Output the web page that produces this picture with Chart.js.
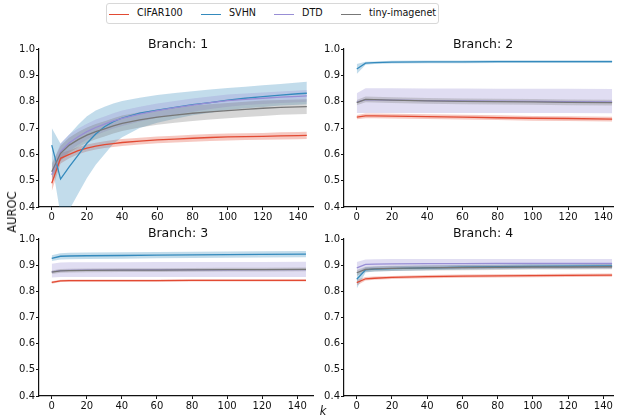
<!DOCTYPE html>
<html lang="en">
<head>
    <meta charset="UTF-8">
    <title>AUROC per branch</title>
    <script src="https://cdn.jsdelivr.net/npm/chart.js@4.4.0/dist/chart.umd.min.js"></script>
    <style>
        body { margin: 0; background: #fff; font-family: "DejaVu Sans", sans-serif; color: #111; }
        #page { position: relative; width: 622px; height: 420px; overflow: hidden; }
        .panel { position: absolute; }
        .title { position: absolute; font-size: 12.5px; transform: translate(-50%, -50%); white-space: nowrap; }
        #legend { position: absolute; left: 106px; top: 3px; width: 331px; height: 19px;
                  border: 1px solid #d8d8d8; border-radius: 3px; font-size: 9.6px; }
        .item { position: absolute; top: 3px; white-space: nowrap; }
        .swatch { position: absolute; width: 20px; height: 0; top: 7px; border-top: 1.3px solid; }
        .item span { position: absolute; left: 28px; top: 0; }
        #ylab { position: absolute; left: 12px; top: 212px; font-size: 11.5px; transform: translate(-50%, -50%) rotate(-90deg); }
        #xlab { position: absolute; left: 323px; top: 411px; font-size: 11.5px; font-style: italic; transform: translate(-50%, -50%); }
    </style>
</head>
<body>
<div id="page">
    <div id="legend"></div>
    <div class="panel" style="left:0px;top:30px"><canvas id="b1" width="320" height="197"></canvas></div>
    <div class="panel" style="left:305px;top:30px"><canvas id="b2" width="315" height="197"></canvas></div>
    <div class="panel" style="left:0px;top:220px"><canvas id="b3" width="320" height="196"></canvas></div>
    <div class="panel" style="left:305px;top:220px"><canvas id="b4" width="315" height="196"></canvas></div>
    <div class="title" style="left:178px;top:43px">Branch: 1</div>
    <div class="title" style="left:483px;top:43px">Branch: 2</div>
    <div class="title" style="left:178px;top:232px">Branch: 3</div>
    <div class="title" style="left:483px;top:232px">Branch: 4</div>
    <div id="ylab">AUROC</div>
    <div id="xlab">k</div>
</div>
<script>
// tick labels
const xTicks = [0, 20, 40, 60, 80, 100, 120, 140];
const yTicks = [0.4, 0.5, 0.6, 0.7, 0.8, 0.9, 1.0];

const names = ['CIFAR100', 'SVHN', 'DTD', 'tiny-imagenet'];
const colors = ['#E24A33', '#348ABD', '#988ED5', '#777777'];
const fills = ['rgba(226,74,51,0.3)', 'rgba(52,138,189,0.3)', 'rgba(152,142,213,0.3)', 'rgba(119,119,119,0.3)'];

// Branch 1 (k values)
const k1 = [0, 5, 10, 15, 20, 25, 30, 35, 40, 50, 60, 70, 80, 90, 100, 110, 120, 130, 140, 145];
const b1Cifar   = [0.490, 0.585, 0.600, 0.614, 0.624, 0.631, 0.637, 0.641, 0.645, 0.650, 0.655, 0.658, 0.661, 0.664, 0.666, 0.667, 0.668, 0.670, 0.671, 0.672];
const b1CifarLo = [0.460, 0.565, 0.585, 0.600, 0.611, 0.618, 0.624, 0.628, 0.632, 0.637, 0.642, 0.645, 0.648, 0.651, 0.653, 0.654, 0.655, 0.656, 0.657, 0.658];
const b1CifarHi = [0.520, 0.605, 0.615, 0.628, 0.637, 0.644, 0.650, 0.654, 0.658, 0.663, 0.668, 0.671, 0.674, 0.677, 0.679, 0.680, 0.681, 0.684, 0.685, 0.686];
const b1Svhn    = [0.635, 0.506, 0.553, 0.597, 0.642, 0.677, 0.705, 0.724, 0.738, 0.756, 0.768, 0.778, 0.789, 0.796, 0.806, 0.813, 0.819, 0.825, 0.830, 0.832];
const b1SvhnLo  = [0.570, 0.370, 0.390, 0.450, 0.510, 0.560, 0.600, 0.640, 0.665, 0.700, 0.720, 0.735, 0.748, 0.758, 0.768, 0.775, 0.780, 0.785, 0.788, 0.790];
const b1SvhnHi  = [0.700, 0.640, 0.675, 0.712, 0.745, 0.766, 0.781, 0.793, 0.803, 0.815, 0.825, 0.833, 0.840, 0.846, 0.852, 0.857, 0.862, 0.867, 0.873, 0.876];
const b1Dtd     = [0.522, 0.610, 0.644, 0.667, 0.686, 0.702, 0.715, 0.727, 0.737, 0.753, 0.766, 0.777, 0.787, 0.796, 0.804, 0.809, 0.813, 0.817, 0.820, 0.822];
const b1DtdLo   = [0.490, 0.578, 0.612, 0.636, 0.656, 0.672, 0.686, 0.698, 0.708, 0.725, 0.739, 0.751, 0.762, 0.772, 0.781, 0.787, 0.791, 0.795, 0.798, 0.800];
const b1DtdHi   = [0.555, 0.642, 0.676, 0.698, 0.716, 0.732, 0.744, 0.756, 0.766, 0.781, 0.793, 0.803, 0.812, 0.820, 0.827, 0.831, 0.835, 0.839, 0.842, 0.844];
const b1Tiny    = [0.534, 0.604, 0.635, 0.656, 0.673, 0.686, 0.697, 0.708, 0.718, 0.731, 0.741, 0.749, 0.756, 0.761, 0.766, 0.771, 0.775, 0.778, 0.780, 0.781];
const b1TinyLo  = [0.505, 0.575, 0.606, 0.627, 0.644, 0.657, 0.668, 0.679, 0.689, 0.702, 0.712, 0.720, 0.727, 0.732, 0.737, 0.742, 0.746, 0.750, 0.752, 0.753];
const b1TinyHi  = [0.565, 0.633, 0.664, 0.685, 0.702, 0.715, 0.726, 0.737, 0.747, 0.760, 0.770, 0.778, 0.785, 0.790, 0.795, 0.800, 0.804, 0.806, 0.808, 0.809];

// Branches 2-4 share these k values
const k2 = [0, 5, 10, 20, 40, 60, 80, 100, 120, 145];

const b2Cifar   = [0.741, 0.746, 0.746, 0.745, 0.743, 0.741, 0.739, 0.737, 0.736, 0.734];
const b2CifarLo = [0.733, 0.737, 0.737, 0.736, 0.734, 0.732, 0.730, 0.728, 0.727, 0.725];
const b2CifarHi = [0.749, 0.755, 0.755, 0.754, 0.752, 0.750, 0.748, 0.746, 0.745, 0.743];
const b2Svhn    = [0.924, 0.946, 0.948, 0.950, 0.951, 0.951, 0.952, 0.952, 0.952, 0.952];
const b2SvhnLo  = [0.905, 0.940, 0.943, 0.945, 0.946, 0.946, 0.947, 0.947, 0.947, 0.947];
const b2SvhnHi  = [0.943, 0.952, 0.953, 0.955, 0.956, 0.956, 0.957, 0.957, 0.957, 0.957];
const b2Dtd     = [0.798, 0.808, 0.807, 0.806, 0.804, 0.803, 0.802, 0.801, 0.800, 0.799];
const b2DtdLo   = [0.757, 0.757, 0.757, 0.757, 0.757, 0.757, 0.757, 0.757, 0.757, 0.756];
const b2DtdHi   = [0.832, 0.851, 0.851, 0.851, 0.850, 0.850, 0.849, 0.849, 0.849, 0.848];
const b2Tiny    = [0.796, 0.809, 0.808, 0.806, 0.803, 0.801, 0.800, 0.799, 0.797, 0.796];
const b2TinyLo  = [0.786, 0.798, 0.797, 0.795, 0.792, 0.790, 0.789, 0.788, 0.786, 0.785];
const b2TinyHi  = [0.806, 0.820, 0.819, 0.817, 0.814, 0.812, 0.811, 0.810, 0.808, 0.807];

const b3Cifar   = [0.834, 0.840, 0.841, 0.841, 0.841, 0.841, 0.842, 0.842, 0.842, 0.842];
const b3CifarLo = [0.829, 0.836, 0.837, 0.837, 0.837, 0.837, 0.838, 0.838, 0.838, 0.838];
const b3CifarHi = [0.839, 0.844, 0.845, 0.845, 0.845, 0.845, 0.846, 0.846, 0.846, 0.846];
const b3Svhn    = [0.926, 0.934, 0.935, 0.936, 0.937, 0.938, 0.939, 0.940, 0.941, 0.942];
const b3SvhnLo  = [0.916, 0.922, 0.923, 0.924, 0.925, 0.926, 0.927, 0.928, 0.929, 0.930];
const b3SvhnHi  = [0.938, 0.946, 0.947, 0.948, 0.949, 0.950, 0.951, 0.952, 0.953, 0.954];
const b3Dtd     = [0.874, 0.879, 0.880, 0.881, 0.881, 0.882, 0.882, 0.882, 0.883, 0.883];
const b3DtdLo   = [0.853, 0.855, 0.855, 0.855, 0.855, 0.855, 0.855, 0.855, 0.855, 0.855];
const b3DtdHi   = [0.905, 0.910, 0.911, 0.911, 0.911, 0.912, 0.912, 0.912, 0.912, 0.913];
const b3Tiny    = [0.873, 0.878, 0.879, 0.880, 0.881, 0.881, 0.882, 0.883, 0.883, 0.884];
const b3TinyLo  = [0.866, 0.871, 0.872, 0.873, 0.874, 0.874, 0.875, 0.876, 0.876, 0.877];
const b3TinyHi  = [0.880, 0.885, 0.886, 0.887, 0.888, 0.888, 0.889, 0.890, 0.890, 0.891];

const b4Cifar   = [0.833, 0.848, 0.850, 0.853, 0.856, 0.858, 0.859, 0.860, 0.861, 0.862];
const b4CifarLo = [0.822, 0.841, 0.844, 0.847, 0.850, 0.852, 0.853, 0.854, 0.855, 0.856];
const b4CifarHi = [0.844, 0.855, 0.857, 0.859, 0.862, 0.864, 0.865, 0.866, 0.867, 0.868];
const b4Svhn    = [0.846, 0.882, 0.885, 0.887, 0.890, 0.892, 0.894, 0.895, 0.896, 0.897];
const b4SvhnLo  = [0.811, 0.872, 0.876, 0.878, 0.881, 0.883, 0.885, 0.886, 0.887, 0.888];
const b4SvhnHi  = [0.872, 0.892, 0.894, 0.896, 0.899, 0.901, 0.903, 0.904, 0.905, 0.906];
const b4Dtd     = [0.890, 0.903, 0.904, 0.905, 0.906, 0.906, 0.907, 0.907, 0.907, 0.907];
const b4DtdLo   = [0.868, 0.884, 0.885, 0.886, 0.886, 0.886, 0.887, 0.887, 0.887, 0.887];
const b4DtdHi   = [0.912, 0.922, 0.923, 0.924, 0.924, 0.924, 0.924, 0.924, 0.924, 0.924];
const b4Tiny    = [0.871, 0.884, 0.886, 0.888, 0.890, 0.891, 0.892, 0.893, 0.893, 0.894];
const b4TinyLo  = [0.860, 0.874, 0.876, 0.878, 0.880, 0.881, 0.882, 0.883, 0.883, 0.884];
const b4TinyHi  = [0.882, 0.894, 0.896, 0.898, 0.900, 0.901, 0.902, 0.903, 0.903, 0.904];

// legend (shared by all four panels)
const legendPos = [2, 94, 167, 234];
const legendDiv = document.getElementById('legend');
names.forEach((name, i) => {
    const item = document.createElement('div');
    item.className = 'item';
    item.style.left = legendPos[i] + 'px';
    item.innerHTML = '<div class="swatch" style="border-color:' + colors[i] + '"></div><span>' + name + '</span>';
    legendDiv.appendChild(item);
});

const pts = (k, ys) => ys.map((y, i) => ({ x: k[i], y: y }));

function makeChart(id, k, means, los, his, xMax) {
    const datasets = [];
    // mean lines first so they are drawn on top; later series above earlier ones
    for (let i = 3; i >= 0; i--) {
        datasets.push({
            data: pts(k, means[i]), borderColor: colors[i], borderWidth: 1.3,
            pointRadius: 0, tension: 0, fill: false
        });
    }
    // bands: lower edge, then upper edge filled down to it
    for (let i = 3; i >= 0; i--) {
        datasets.push({ data: pts(k, los[i]), borderWidth: 0, pointRadius: 0, fill: false });
        datasets.push({
            data: pts(k, his[i]), borderWidth: 0, pointRadius: 0,
            backgroundColor: fills[i], fill: '-1'
        });
    }
    const tickFont = { family: 'DejaVu Sans', size: 10 };
    return new Chart(document.getElementById(id), {
        type: 'line',
        data: { datasets: datasets },
        options: {
            responsive: false,
            animation: false,
            layout: { padding: { top: 19, right: 7, left: 0, bottom: 0 } },
            plugins: { legend: { display: false }, tooltip: { enabled: false } },
            scales: {
                x: {
                    type: 'linear', min: -7.25, max: xMax,
                    afterBuildTicks: s => { s.ticks = xTicks.map(v => ({ value: v })); },
                    afterFit: s => { s.height = 20; },
                    grid: { drawOnChartArea: false, tickLength: 3, tickColor: '#111' },
                    border: { color: '#111', width: 1.2 },
                    ticks: { font: tickFont, color: '#111', padding: 1, maxRotation: 0, autoSkip: false }
                },
                y: {
                    min: 0.4, max: 1.0,
                    afterBuildTicks: s => { s.ticks = yTicks.map(v => ({ value: v })); },
                    afterFit: s => { s.width = 39; },
                    grid: { drawOnChartArea: false, tickLength: 3, tickColor: '#111' },
                    border: { color: '#111', width: 1.2 },
                    ticks: { font: tickFont, color: '#111', padding: 1, callback: v => v.toFixed(1) }
                }
            }
        }
    });
}

makeChart('b1', k1, [b1Cifar, b1Svhn, b1Dtd, b1Tiny], [b1CifarLo, b1SvhnLo, b1DtdLo, b1TinyLo], [b1CifarHi, b1SvhnHi, b1DtdHi, b1TinyHi], 148.5);
makeChart('b2', k2, [b2Cifar, b2Svhn, b2Dtd, b2Tiny], [b2CifarLo, b2SvhnLo, b2DtdLo, b2TinyLo], [b2CifarHi, b2SvhnHi, b2DtdHi, b2TinyHi], 145.5);
makeChart('b3', k2, [b3Cifar, b3Svhn, b3Dtd, b3Tiny], [b3CifarLo, b3SvhnLo, b3DtdLo, b3TinyLo], [b3CifarHi, b3SvhnHi, b3DtdHi, b3TinyHi], 149);
makeChart('b4', k2, [b4Cifar, b4Svhn, b4Dtd, b4Tiny], [b4CifarLo, b4SvhnLo, b4DtdLo, b4TinyLo], [b4CifarHi, b4SvhnHi, b4DtdHi, b4TinyHi], 145.5);
</script>
</body>
</html>
